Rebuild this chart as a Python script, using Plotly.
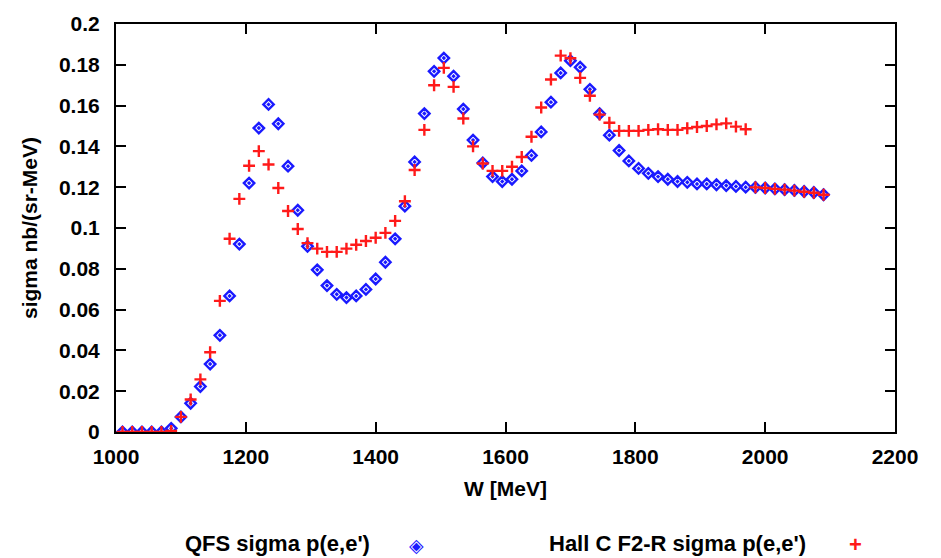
import plotly.graph_objects as go

W = [1010, 1025, 1040, 1055, 1070, 1085, 1100, 1115, 1130, 1145,
     1160, 1175, 1190, 1205, 1220, 1235, 1250, 1265, 1280, 1295,
     1310, 1325, 1340, 1355, 1370, 1385, 1400, 1415, 1430, 1445,
     1460, 1475, 1490, 1505, 1520, 1535, 1550, 1565, 1580, 1595,
     1610, 1625, 1640, 1655, 1670, 1685, 1700, 1715, 1730, 1745,
     1760, 1775, 1790, 1805, 1820, 1835, 1850, 1865, 1880, 1895,
     1910, 1925, 1940, 1955, 1970, 1985, 2000, 2015, 2030, 2045,
     2060, 2075, 2090]

qfs = [0.0, 0.0, 0.0, 0.0, 0.0, 0.0018, 0.0074, 0.0141, 0.0223, 0.0333,
       0.0474, 0.0667, 0.0921, 0.1220, 0.1490, 0.1606, 0.1511, 0.1303, 0.1087, 0.0910,
       0.0795, 0.0718, 0.0675, 0.0659, 0.0667, 0.0699, 0.0750, 0.0832, 0.0947, 0.1107,
       0.1324, 0.1561, 0.1768, 0.1833, 0.1744, 0.1583, 0.1431, 0.1319, 0.1252, 0.1228,
       0.1239, 0.1280, 0.1356, 0.1471, 0.1617, 0.1760, 0.1820, 0.1788, 0.1680, 0.1560,
       0.1455, 0.1380, 0.1329, 0.1292, 0.1268, 0.1252, 0.1239, 0.1228, 0.1224, 0.1216,
       0.1216, 0.1212, 0.1208, 0.1204, 0.1200, 0.1199, 0.1196, 0.1192, 0.1188, 0.1184,
       0.1179, 0.1174, 0.1163]

hallc = [0.0, 0.0, 0.0, 0.0, 0.0, 0.0005, 0.0074, 0.0159, 0.0258, 0.0391,
         0.0643, 0.0947, 0.1143, 0.1305, 0.1377, 0.1311, 0.1196, 0.1083, 0.0995, 0.0926,
         0.0899, 0.0883, 0.0883, 0.0899, 0.0918, 0.0936, 0.0952, 0.0976, 0.1035, 0.1131,
         0.1284, 0.1481, 0.1700, 0.1785, 0.1692, 0.1537, 0.1400, 0.1316, 0.1280, 0.1280,
         0.1300, 0.1348, 0.1447, 0.1591, 0.1728, 0.1845, 0.1832, 0.1736, 0.1648, 0.1556,
         0.1516, 0.1476, 0.1476, 0.1476, 0.1481, 0.1484, 0.1481, 0.1481, 0.1489, 0.1495,
         0.1500, 0.1508, 0.1513, 0.1497, 0.1484, 0.1199, 0.1196, 0.1192, 0.1188, 0.1183,
         0.1178, 0.1173, 0.1163]

x_ticks = [1000, 1200, 1400, 1600, 1800, 2000, 2200]
y_ticks = [0, 0.02, 0.04, 0.06, 0.08, 0.1, 0.12, 0.14, 0.16, 0.18, 0.2]
y_tick_text = ["0", "0.02", "0.04", "0.06", "0.08", "0.1", "0.12", "0.14", "0.16", "0.18", "0.2"]

FONT = "Liberation Sans, Arial, Helvetica, sans-serif"
FS = 21
BLUE = "#1a1aff"
RED = "#ff1a1a"

fig = go.Figure()
fig.add_trace(go.Scatter(
    x=W, y=qfs, mode="markers", name="QFS sigma p(e,e')",
    marker=dict(symbol="diamond-open-dot", size=8, color=BLUE,
                line=dict(width=2.4, color=BLUE)),
))
fig.add_trace(go.Scatter(
    x=W, y=hallc, mode="markers", name="Hall C F2-R sigma p(e,e')",
    marker=dict(symbol="cross-thin-open", size=8.5, color=RED,
                line=dict(width=2.4, color=RED)),
))

axis_common = dict(
    showgrid=False, zeroline=False, showline=True, linecolor="black", linewidth=2,
    mirror="allticks", ticks="inside", ticklen=10, tickwidth=1.5, tickcolor="black",
    tickfont=dict(family=FONT, size=FS, color="black", weight="bold"),
)

fig.update_layout(
    width=941, height=558,
    margin=dict(l=116, r=46, t=16, b=126),
    paper_bgcolor="white", plot_bgcolor="white",
    showlegend=False,
    font=dict(family=FONT, color="black"),
    xaxis=dict(range=[1000, 2200], tickvals=x_ticks, ticktext=[str(t) for t in x_ticks],
               ticklabelstandoff=5,
               title=dict(text="W [MeV]", font=dict(family=FONT, size=FS, weight="bold"), standoff=14),
               **axis_common),
    yaxis=dict(range=[0, 0.2], tickvals=y_ticks, ticktext=y_tick_text,
               ticklabelstandoff=10,
               title=dict(text="sigma nb/(sr-MeV)", font=dict(family=FONT, size=FS, weight="bold"), standoff=16),
               **axis_common),
    annotations=[
        dict(xref="paper", yref="paper", x=0.086, y=-0.274, xanchor="left", yanchor="middle",
             showarrow=False, text="QFS sigma p(e,e')",
             font=dict(family=FONT, size=FS + 1, weight="bold", color="black")),
        dict(xref="paper", yref="paper", x=0.386, y=-0.276, xanchor="center", yanchor="middle",
             showarrow=False, text="◈",
             font=dict(family="DejaVu Sans", size=19, color=BLUE)),
        dict(xref="paper", yref="paper", x=0.553, y=-0.274, xanchor="left", yanchor="middle",
             showarrow=False, text="Hall C F2-R sigma p(e,e')",
             font=dict(family=FONT, size=FS + 1, weight="bold", color="black")),
        dict(xref="paper", yref="paper", x=0.949, y=-0.276, xanchor="center", yanchor="middle",
             showarrow=False, text="+",
             font=dict(family=FONT, size=22, weight="bold", color=RED)),
    ],
)

fig.write_html("out.html")
